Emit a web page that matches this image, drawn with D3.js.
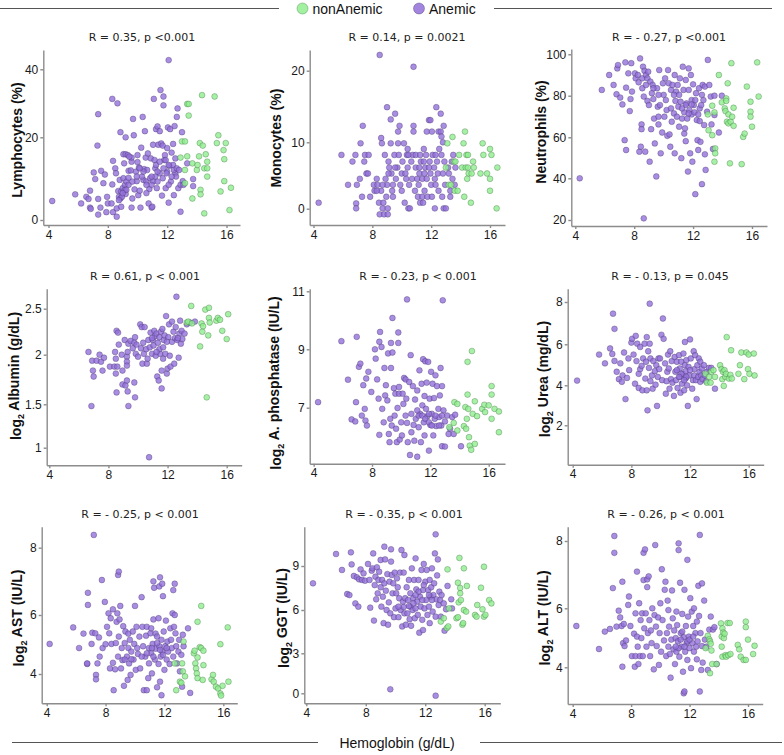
<!DOCTYPE html>
<html>
<head>
<meta charset="utf-8">
<script src="https://cdn.jsdelivr.net/npm/d3@7"></script>
<style>
  body { margin: 0; background: #fff; }
  svg { display: block; }
  .tick text { font-family: "Liberation Sans", Arial, sans-serif; font-size: 12px; fill: #1a1a1a; }
  .axis path, .axis line { stroke: #8c8c8c; stroke-width: 1.4; }
</style>
</head>
<body>
<div id="chart"></div>
<script>
// hemoglobin (g/dL) vs. lab value, one [hb, value] pair per patient
var hbTicks = [4, 8, 12, 16];

var lymphTicks = [0, 20, 40],
    monoTicks = [0, 10, 20],
    neutTicks = [20, 40, 60, 80, 100],
    albTicks = [1, 1.5, 2, 2.5],
    alpTicks = [7, 9, 11],
    ureaTicks = [2, 4, 6, 8],
    astTicks = [4, 6, 8],
    ggtTicks = [0, 3, 6, 9],
    altTicks = [4, 6, 8];

var statLabels = ["R = 0.35, p <0.001", "R = 0.14, p = 0.0021", "R = - 0.27, p <0.001",
                  "R = 0.61, p < 0.001", "R = - 0.23, p < 0.001", "R = - 0.13, p = 0.045",
                  "R = - 0.25, p < 0.001", "R = - 0.35, p < 0.001", "R = - 0.26, p < 0.001"];

var yLabels = ["Lymphocytes (%)", "Monocytes (%)", "Neutrophils (%)",
               "log2 Albumin (g/dL)", "log2 A. phosphatase (IU/L)", "log2 Urea (mg/dL)",
               "log2 AST (IU/L)", "log2 GGT (IU/L)", "log2 ALT (IU/L)"];

var groups = ["nonAnemic", "Anemic"];

var lymphAnemic = [[4.25,4.6],[5.8,6.2],[6.2,4.0],[6.55,5.6],[6.7,5.1],[6.8,7.1],[6.8,3.0],[6.85,2.7],[7.05,11.5],[7.15,9.9],[7.3,18.0],[7.35,26.8],[7.35,5.1],[7.35,1.3],[7.5,3.0],[7.55,11.9],[7.7,8.9],[7.8,11.0],[7.9,1.9],[7.95,5.6],[8.0,4.0],[8.3,31.3],[8.35,14.3],[8.25,4.0],[8.3,8.6],[8.35,1.9],[8.5,12.5],[8.55,11.3],[8.6,0.8],[8.6,2.8],[8.65,30.0],[8.7,7.0],[8.75,5.6],[8.8,9.7],[8.85,5.2],[8.85,21.5],[8.9,6.9],[9.0,7.7],[9.05,10.1],[9.05,15.9],[9.1,13.7],[9.15,8.5],[9.2,6.3],[9.2,20.0],[9.2,15.9],[9.25,9.3],[9.35,15.7],[9.4,11.9],[9.4,10.2],[9.55,12.0],[9.6,14.1],[9.6,15.1],[9.6,3.0],[9.65,5.2],[9.7,25.4],[9.75,20.6],[9.8,7.4],[9.9,11.7],[9.95,9.4],[10.0,15.7],[10.0,14.0],[10.05,6.0],[10.1,12.7],[10.15,7.1],[10.2,3.0],[10.25,17.5],[10.35,26.0],[10.4,9.7],[10.45,12.3],[10.5,21.8],[10.55,15.1],[10.6,9.3],[10.65,12.1],[10.75,4.0],[10.8,7.5],[10.85,10.1],[10.9,14.9],[10.95,3.0],[11.0,3.2],[11.05,9.4],[11.1,31.3],[11.15,14.5],[11.2,12.5],[11.25,22.4],[11.3,7.7],[11.35,23.2],[11.35,9.3],[11.4,18.2],[11.5,11.3],[11.5,21.8],[11.55,33.9],[11.6,18.5],[11.65,5.9],[11.7,10.1],[11.75,29.4],[11.75,32.0],[11.8,14.5],[11.85,15.7],[11.9,7.7],[12.0,11.7],[12.05,22.9],[12.1,42.7],[12.1,4.2],[12.15,13.1],[12.2,22.4],[12.25,9.3],[12.3,16.3],[12.4,18.4],[12.4,13.3],[12.45,6.0],[12.5,23.3],[12.55,11.3],[12.6,10.5],[12.65,26.0],[12.7,28.5],[12.75,7.7],[12.9,2.0],[12.9,8.5],[13.0,21.5],[13.05,9.4],[13.1,8.5],[13.35,13.7],[13.75,9.9],[13.75,8.2],[11.7,18.0],[11.95,11.3],[11.25,13.3],[9.4,8.5],[8.95,5.6],[9.15,7.3],[10.7,16.1],[12.3,10.5],[12.55,14.9],[12.1,8.5],[10.95,8.5],[10.6,6.5],[10.3,10.5],[11.5,14.1],[11.05,18.2],[9.45,15.3],[9.95,10.5],[10.4,11.7],[11.2,10.5],[11.35,11.7],[11.75,12.5],[11.9,14.5],[12.0,17.4],[12.1,13.3],[12.45,12.1],[12.65,12.5],[12.8,12.1],[10.95,10.5],[10.6,8.5],[10.15,12.5],[9.65,9.3],[9.25,7.3],[9.0,6.5],[8.75,4.8],[8.9,3.2]];
var lymphNonAnemic = [[12.9,15.1],[13.0,19.0],[13.2,19.0],[13.35,29.8],[13.45,29.8],[13.45,26.4],[13.2,12.1],[13.2,8.9],[13.35,15.4],[13.7,13.7],[13.7,5.2],[14.0,12.1],[14.05,13.3],[14.15,15.4],[14.2,18.6],[14.25,7.3],[14.25,6.2],[14.35,32.4],[14.4,18.0],[14.5,12.5],[14.5,1.6],[14.6,15.9],[14.7,14.1],[14.7,12.5],[14.7,10.5],[15.2,32.0],[15.35,18.6],[15.45,20.6],[15.6,6.9],[15.8,16.9],[15.85,14.7],[15.85,9.4],[15.95,18.6],[16.2,2.4],[16.3,7.8]];

var monoAnemic = [[4.35,0.9],[5.9,8.1],[6.35,3.6],[6.65,7.1],[6.85,8.1],[6.9,0.8],[6.9,0.05],[6.95,3.6],[7.15,4.5],[7.2,9.85],[7.35,12.3],[7.45,7.1],[7.5,8.1],[7.6,5.3],[7.7,5.3],[7.75,8.1],[7.85,1.8],[7.3,1.8],[8.1,3.6],[8.15,2.7],[8.3,4.5],[8.35,3.6],[8.45,0.9],[8.5,-0.85],[8.5,22.2],[8.6,2.7],[8.6,10.6],[8.65,9.85],[8.7,0.05],[8.75,0.9],[8.8,-0.85],[8.85,8.1],[8.9,4.5],[8.95,1.8],[9.0,3.6],[9.0,14.9],[9.05,0.05],[9.05,-0.85],[9.1,7.1],[9.15,6.2],[9.25,9.85],[9.25,13.2],[9.3,5.3],[9.35,2.7],[9.4,3.6],[9.4,1.8],[9.5,8.1],[9.55,14.0],[9.6,4.5],[9.7,6.2],[9.75,9.85],[9.75,11.5],[9.8,8.1],[9.85,12.3],[9.9,3.6],[10.0,5.3],[10.0,2.7],[10.05,7.1],[10.15,9.85],[10.2,0.9],[10.25,5.3],[10.3,4.5],[10.35,8.1],[10.4,9.0],[10.45,0.05],[10.5,3.6],[10.55,0.05],[10.65,7.1],[10.7,4.5],[10.75,8.1],[10.8,12.3],[10.8,11.5],[10.8,20.55],[10.9,2.7],[10.95,6.2],[10.95,8.1],[11.05,4.5],[11.1,1.8],[11.15,3.6],[11.2,5.3],[11.25,8.1],[11.25,0.9],[11.3,7.1],[11.4,4.5],[11.4,1.8],[11.45,0.9],[11.5,9.0],[11.55,5.3],[11.55,2.7],[11.6,6.2],[11.65,8.1],[11.7,11.5],[11.7,4.5],[11.75,1.8],[11.85,13.1],[11.9,7.1],[11.95,5.3],[11.95,13.1],[12.0,3.6],[12.05,11.5],[12.05,1.8],[12.1,8.1],[12.2,6.2],[12.25,4.5],[12.25,0.05],[12.3,3.6],[12.35,14.9],[12.4,7.1],[12.45,5.3],[12.5,11.5],[12.5,2.7],[12.55,9.0],[12.65,14.0],[12.65,11.5],[12.7,8.1],[12.7,10.8],[12.75,1.8],[12.8,5.3],[12.8,10.0],[12.85,12.3],[12.85,0.05],[12.9,7.1],[12.95,3.6],[13.0,0.05],[13.15,6.2],[13.2,5.3],[13.3,1.8],[13.3,2.7],[13.4,7.1],[13.45,4.5],[13.5,8.1],[13.6,3.6],[13.65,6.2],[11.2,6.2],[11.85,6.2],[12.3,8.1],[11.5,7.1],[10.45,8.1],[10.4,6.2],[9.55,6.2],[9.1,5.3],[8.7,3.6],[8.3,2.7]];
var monoNonAnemic = [[13.1,9.85],[13.45,10.75],[13.55,7.1],[13.65,7.1],[13.0,6.2],[13.2,3.6],[13.35,3.6],[13.6,2.7],[13.8,2.7],[13.9,8.1],[14.2,9.85],[14.25,1.8],[14.3,11.5],[14.4,8.1],[14.5,8.1],[14.1,6.2],[14.35,6.2],[14.5,6.2],[14.55,5.3],[14.45,4.5],[14.7,0.9],[14.85,7.1],[14.9,6.2],[14.75,5.3],[15.5,9.85],[15.55,8.1],[15.35,5.3],[15.8,5.3],[16.0,9.0],[16.1,8.1],[16.0,4.5],[16.0,2.7],[16.45,0.05],[16.5,6.2]];

var neutAnemic = [[4.3,40],[5.8,82.8],[6.3,90],[6.6,85.2],[6.85,93.2],[6.9,94.8],[6.8,80.7],[7.05,79.1],[7.2,75.8],[7.35,58.6],[7.4,96.1],[7.45,53.8],[7.45,83.9],[7.6,90.8],[7.7,72.6],[7.75,78.4],[7.8,95.7],[7.85,82],[8.05,90.8],[8.1,88.4],[8.25,90],[8.3,86.5],[8.35,53],[8.4,98],[8.45,55.4],[8.5,66.2],[8.5,63.9],[8.55,83.6],[8.55,88.4],[8.6,94.0],[8.65,20.8],[8.65,79.6],[8.7,92],[8.75,53],[8.8,85.2],[8.8,90],[8.9,77.5],[8.9,88.4],[8.95,91.6],[9.0,75.5],[9.05,48.1],[9.1,86.8],[9.15,63.9],[9.2,81.2],[9.25,85.2],[9.3,78.4],[9.35,69],[9.4,57],[9.5,40.9],[9.55,83.6],[9.6,74.7],[9.65,69.9],[9.65,66.2],[9.7,92.4],[9.75,75.5],[9.8,52.2],[9.9,62.3],[9.95,86],[10.0,80.4],[10.05,69.9],[10.1,88.4],[10.15,77.9],[10.2,73.1],[10.25,60.7],[10.3,92.4],[10.35,86],[10.4,61.4],[10.45,55.4],[10.5,82.8],[10.5,73.9],[10.55,67.5],[10.6,85.2],[10.7,71.5],[10.75,90],[10.75,52.2],[10.8,77.5],[10.85,82],[10.9,69.9],[10.95,85.2],[11.0,74.7],[11.05,65.1],[11.1,88.4],[11.15,77.1],[11.2,49.8],[11.25,69],[11.3,94],[11.35,82.8],[11.4,61.8],[11.4,72],[11.45,64.3],[11.5,58.1],[11.5,87.6],[11.55,76.3],[11.6,69],[11.65,43.3],[11.7,82.8],[11.7,93.2],[11.75,73.1],[11.8,52.2],[11.85,90],[11.9,77.9],[11.9,71],[11.95,48.1],[12.0,85.5],[12.05,75.5],[12.1,72],[12.15,32.4],[12.2,81.2],[12.25,68.3],[12.3,58.6],[12.35,53.8],[12.4,83.6],[12.45,73.9],[12.45,67.8],[12.5,57.8],[12.55,75.5],[12.6,37.2],[12.65,85.2],[12.7,77.9],[12.75,65.9],[12.8,51.7],[12.8,84.4],[12.85,44.1],[12.95,72.3],[13.0,97.3],[13.1,85.2],[13.2,79.6],[13.25,66.2],[13.35,54.3],[13.45,70.7],[13.45,80],[13.75,62.3],[13.95,80],[11.9,75.8],[11.5,75.5],[11.05,80.4],[10.7,80.4],[12.15,77.9],[12.6,80.4],[12.35,71],[11.7,71.5],[11.25,73.9],[9.65,80.4],[9.3,83.6]];
var neutNonAnemic = [[13.75,90],[13.0,71],[13.05,63.4],[13.3,75.2],[13.3,61],[13.45,72],[13.5,54.6],[13.5,52.2],[13.45,48.1],[13.95,76.8],[14.15,73.9],[14.2,72.6],[14.25,78.7],[14.25,77.5],[14.3,67.5],[14.35,86],[14.4,66.7],[14.4,71],[14.55,67.5],[14.6,95.7],[14.5,47.3],[14.65,69.9],[14.75,74.2],[14.75,65.5],[15.3,46.9],[15.4,60.2],[15.5,61.8],[15.65,84.4],[15.9,77.1],[15.9,72.3],[15.9,69.9],[16.0,65.1],[16.35,96.1],[16.45,79.6]];

var albAnemic = [[6.65,2.03],[6.85,1.48],[6.9,1.94],[6.95,1.84],[7.0,1.78],[7.2,1.94],[7.4,2.0],[7.5,1.93],[7.6,1.84],[7.7,1.97],[8.1,1.88],[8.4,1.88],[8.45,2.03],[8.5,1.96],[8.5,1.81],[8.55,1.62],[8.55,2.26],[8.6,1.88],[8.65,2.24],[8.7,2.11],[8.9,2.0],[8.95,1.84],[8.95,1.7],[9.1,2.16],[9.15,1.69],[9.25,1.98],[9.25,1.93],[9.25,1.89],[9.25,1.74],[9.3,1.63],[9.35,1.48],[9.3,2.03],[9.35,2.12],[9.5,2.15],[9.65,2.07],[9.75,2.13],[9.75,1.72],[9.8,1.57],[9.8,2.19],[9.85,2.01],[9.9,2.11],[10.0,1.98],[10.15,2.33],[10.2,2.07],[10.25,2.3],[10.3,1.91],[10.35,2.13],[10.4,2.01],[10.45,2.3],[10.55,2.06],[10.6,1.91],[10.65,1.96],[10.7,2.16],[10.75,0.89],[10.8,2.08],[10.85,2.24],[10.95,2.01],[11.0,2.16],[11.05,2.1],[11.1,2.26],[11.15,2.2],[11.2,1.99],[11.25,2.23],[11.3,1.78],[11.35,2.13],[11.4,1.74],[11.45,2.19],[11.5,2.01],[11.55,2.25],[11.6,1.84],[11.6,1.66],[11.65,2.28],[11.7,1.96],[11.75,2.16],[11.8,2.21],[11.85,2.01],[11.9,2.42],[11.95,1.81],[12.0,1.86],[12.05,2.19],[12.1,2.33],[12.15,1.99],[12.2,1.88],[12.3,2.36],[12.3,2.14],[12.4,2.25],[12.45,1.91],[12.5,2.18],[12.55,2.3],[12.6,2.63],[12.65,2.16],[12.75,1.97],[12.8,2.23],[12.85,2.37],[12.9,2.12],[12.95,2.26],[13.0,2.17],[13.15,2.23],[13.3,2.33],[13.85,2.36],[13.5,2.35],[11.45,2.06],[11.7,2.08],[11.25,2.03],[10.95,2.18],[11.95,2.14],[12.7,2.18]];
var albNonAnemic = [[13.3,2.35],[13.4,2.36],[13.6,2.53],[13.65,2.34],[14.2,2.09],[14.3,2.34],[14.35,2.25],[14.4,2.31],[14.55,2.49],[14.65,1.57],[14.75,2.21],[14.8,2.51],[14.8,2.4],[14.85,2.35],[15.3,2.37],[15.4,2.4],[15.55,2.38],[15.7,2.26],[16.0,2.17],[16.1,2.44]];

var alpAnemic = [[4.3,7.19],[5.9,9.28],[6.35,7.96],[6.6,6.6],[6.85,6.53],[6.9,7.19],[6.95,9.43],[7.1,8.4],[7.2,8.51],[7.3,6.73],[7.4,7.77],[7.5,6.96],[7.55,6.56],[7.6,8.0],[7.65,6.39],[7.75,8.23],[7.95,7.54],[8.2,9.0],[8.25,8.68],[8.35,7.97],[8.45,7.31],[8.5,9.26],[8.5,6.07],[8.55,9.6],[8.65,9.08],[8.7,6.96],[8.8,6.5],[8.85,8.36],[8.9,7.42],[8.95,7.77],[9.05,7.25],[9.1,8.86],[9.15,6.1],[9.2,5.82],[9.25,6.62],[9.3,9.22],[9.3,8.36],[9.35,6.39],[9.4,10.08],[9.4,8.89],[9.5,7.67],[9.55,6.73],[9.6,7.48],[9.65,6.28],[9.7,5.82],[9.75,6.99],[9.8,9.58],[9.8,9.22],[9.85,7.71],[9.85,7.48],[9.9,5.91],[10.0,6.5],[10.05,6.05],[10.1,7.48],[10.15,7.13],[10.2,8.02],[10.3,6.73],[10.3,7.97],[10.35,7.31],[10.4,6.48],[10.4,10.72],[10.45,5.82],[10.55,7.88],[10.6,5.38],[10.65,8.8],[10.7,6.16],[10.7,6.79],[10.8,7.74],[10.85,6.41],[10.9,5.87],[10.95,7.28],[11.0,6.62],[11.1,5.32],[11.1,7.59],[11.2,6.33],[11.25,8.28],[11.3,6.79],[11.35,5.82],[11.4,7.82],[11.45,7.08],[11.5,8.66],[11.55,6.5],[11.6,7.4],[11.6,6.05],[11.65,8.59],[11.7,6.96],[11.75,7.86],[11.8,6.71],[11.85,8.57],[11.9,5.53],[11.95,7.31],[12.0,6.41],[12.05,8.23],[12.1,6.79],[12.15,7.82],[12.2,6.05],[12.25,7.33],[12.3,6.62],[12.35,8.11],[12.4,6.37],[12.45,7.74],[12.55,6.96],[12.6,6.68],[12.65,7.42],[12.7,8.36],[12.75,6.39],[12.8,7.74],[12.8,5.68],[12.85,10.69],[12.9,6.91],[13.0,6.53],[13.0,5.67],[13.15,6.73],[13.25,6.1],[13.35,6.28],[13.5,6.68],[13.6,6.1],[13.7,6.76],[14.1,5.68],[11.2,6.73],[11.45,6.73],[11.65,6.62],[11.9,6.5],[12.1,6.39],[12.35,6.73],[11.1,6.91],[11.9,6.79],[12.6,6.39],[12.8,6.73]];
var alpNonAnemic = [[13.3,6.33],[13.6,6.48],[13.65,7.19],[13.85,7.13],[13.85,6.22],[14.3,6.37],[14.4,7.02],[14.45,6.28],[14.5,6.62],[14.55,8.57],[14.55,7.45],[14.6,6.96],[14.65,5.99],[14.7,5.7],[14.8,5.56],[14.85,8.94],[14.9,6.79],[15.05,5.76],[15.05,7.22],[15.2,6.71],[15.55,6.96],[15.7,7.1],[15.75,6.85],[16.0,7.08],[16.2,7.74],[16.2,7.45],[16.2,6.62],[16.4,6.96],[16.7,6.87],[16.7,6.16]];

var ureaAnemic = [[4.3,4.23],[5.8,5.5],[6.2,5.07],[6.55,5.8],[6.75,7.45],[6.7,5.53],[6.85,6.73],[6.85,5.19],[7.0,4.66],[7.15,4.3],[7.25,5.07],[7.35,4.17],[7.4,4.48],[7.5,5.6],[7.6,3.31],[7.7,4.36],[7.8,5.31],[7.85,4.74],[8.0,6.08],[8.05,6.26],[8.15,5.5],[8.25,4.08],[8.3,6.4],[8.35,5.18],[8.4,6.03],[8.5,4.56],[8.5,3.87],[8.6,4.79],[8.6,5.87],[8.7,4.95],[8.75,3.75],[8.8,5.31],[8.9,6.03],[8.95,4.33],[9.0,5.15],[9.05,3.75],[9.05,6.34],[9.1,2.75],[9.15,5.66],[9.2,4.85],[9.25,7.92],[9.25,6.03],[9.3,4.2],[9.3,5.31],[9.4,4.48],[9.45,3.83],[9.5,5.18],[9.6,4.69],[9.65,4.03],[9.7,4.98],[9.75,2.97],[9.8,4.41],[9.85,5.31],[9.9,4.79],[9.95,5.31],[10.05,6.45],[10.1,4.25],[10.15,7.22],[10.2,6.26],[10.3,5.07],[10.35,3.58],[10.4,4.2],[10.45,4.66],[10.5,5.5],[10.55,4.82],[10.6,3.83],[10.65,5.66],[10.7,4.3],[10.75,5.18],[10.8,4.13],[10.9,3.47],[10.95,5.38],[11.0,4.66],[11.05,4.25],[11.1,5.15],[11.15,3.87],[11.25,5.47],[11.3,4.82],[11.3,4.41],[11.35,3.63],[11.4,5.15],[11.45,4.08],[11.5,4.56],[11.55,5.55],[11.6,3.75],[11.65,6.11],[11.65,4.98],[11.7,4.33],[11.7,4.69],[11.75,5.23],[11.8,4.0],[11.85,2.97],[11.9,4.9],[11.95,4.48],[12.0,6.23],[12.05,5.31],[12.15,3.83],[12.2,4.25],[12.25,5.66],[12.3,4.79],[12.3,4.48],[12.35,5.47],[12.4,4.25],[12.45,3.31],[12.5,4.98],[12.55,4.41],[12.6,5.31],[12.65,4.66],[12.7,4.17],[12.7,5.15],[12.75,4.48],[12.8,4.82],[12.85,4.3],[12.95,4.98],[13.0,4.48],[13.1,4.2],[13.15,4.66],[13.3,4.85],[13.45,4.85],[13.7,3.83],[11.4,4.56],[11.25,4.41],[11.75,4.41],[12.0,4.74],[11.6,4.25],[11.1,4.74]];
var ureaNonAnemic = [[13.05,4.56],[13.15,4.13],[13.3,4.41],[13.4,4.13],[13.45,4.66],[13.6,4.74],[13.7,4.41],[14.05,4.98],[14.15,4.79],[14.2,4.3],[14.25,4.66],[14.3,3.97],[14.35,4.74],[14.4,4.41],[14.45,4.56],[14.5,6.34],[14.65,4.33],[14.75,4.51],[14.8,5.71],[14.85,4.33],[15.3,4.56],[15.4,4.98],[15.5,5.6],[15.7,4.3],[15.85,5.6],[15.95,4.79],[16.0,5.5],[16.05,4.56],[16.35,5.55],[16.4,4.48]];

var astAnemic = [[4.2,5.02],[5.8,5.58],[6.2,4.88],[6.5,5.37],[6.75,4.34],[6.75,4.36],[6.8,6.66],[6.8,6.3],[7.05,5.02],[7.1,5.4],[7.2,8.38],[7.3,5.38],[7.35,3.97],[7.35,3.82],[7.45,4.36],[7.55,5.24],[7.6,4.59],[7.75,7.04],[7.8,4.88],[7.95,6.39],[8.0,5.01],[8.1,5.6],[8.2,6.05],[8.25,5.38],[8.3,4.19],[8.35,5.89],[8.4,5.02],[8.5,4.38],[8.5,6.17],[8.55,3.45],[8.65,4.16],[8.7,5.05],[8.75,5.77],[8.8,6.05],[8.85,7.19],[8.85,4.59],[8.9,7.29],[8.9,5.27],[8.95,5.85],[9.0,6.27],[9.05,4.19],[9.1,4.88],[9.15,4.47],[9.2,5.62],[9.25,3.6],[9.3,5.05],[9.35,5.44],[9.45,4.59],[9.5,3.8],[9.55,5.37],[9.55,4.88],[9.6,4.36],[9.65,5.16],[9.7,3.97],[9.75,4.76],[9.85,5.44],[9.9,4.49],[9.95,5.02],[10.0,6.27],[10.05,4.14],[10.1,5.6],[10.15,4.88],[10.2,4.68],[10.3,5.27],[10.35,4.19],[10.45,6.53],[10.5,5.6],[10.55,4.94],[10.6,3.45],[10.7,4.59],[10.75,5.3],[10.8,3.45],[10.8,5.6],[10.9,3.86],[10.95,4.88],[10.95,4.36],[11.05,5.38],[11.1,4.7],[11.1,5.55],[11.15,4.02],[11.2,5.02],[11.25,5.85],[11.25,7.0],[11.3,6.81],[11.35,4.49],[11.4,5.37],[11.4,4.86],[11.5,3.55],[11.5,5.27],[11.6,5.89],[11.6,4.34],[11.65,6.85],[11.65,4.94],[11.7,7.12],[11.7,3.74],[11.75,4.59],[11.8,3.28],[11.8,5.16],[11.85,6.93],[11.85,4.76],[11.9,6.56],[11.95,5.44],[12.0,4.14],[12.05,4.94],[12.1,5.81],[12.15,4.49],[12.2,5.1],[12.25,4.76],[12.35,4.34],[12.4,5.55],[12.45,5.16],[12.5,4.88],[12.55,6.05],[12.6,6.74],[12.6,4.59],[12.65,5.6],[12.7,6.93],[12.7,6.0],[12.75,5.38],[12.8,4.94],[12.85,4.36],[12.95,4.76],[13.0,5.16],[13.05,4.09],[13.15,4.65],[13.25,5.33],[13.3,4.94],[13.2,3.57],[13.6,5.55],[13.75,3.36],[11.7,4.82],[11.5,5.05],[11.9,4.65],[12.15,4.88],[11.25,4.59],[11.15,4.88],[10.8,4.7],[10.45,4.59],[9.75,4.5],[9.3,4.49]];
var astNonAnemic = [[12.7,4.36],[12.8,3.45],[13.05,3.74],[13.15,3.7],[13.2,4.36],[13.25,4.09],[13.3,5.1],[13.4,3.92],[14.0,4.7],[14.05,4.79],[14.1,4.36],[14.15,4.19],[14.2,4.02],[14.25,4.56],[14.25,3.86],[14.25,5.77],[14.4,4.91],[14.5,6.27],[14.5,4.88],[14.65,4.79],[14.65,4.3],[14.6,3.8],[15.2,3.82],[15.3,3.97],[15.35,3.74],[15.5,3.57],[15.65,3.51],[15.8,3.34],[15.85,3.27],[15.8,5.01],[15.95,3.6],[16.35,3.74],[16.3,5.58]];

var ggtAnemic = [[4.45,7.82],[6.0,9.82],[6.4,8.73],[6.75,7.09],[6.9,7.02],[7.0,9.93],[7.05,9.11],[7.2,8.32],[7.3,6.45],[7.4,8.23],[7.5,6.23],[7.55,8.09],[7.65,8.77],[7.75,8.05],[7.85,8.5],[7.95,8.0],[8.15,9.14],[8.25,8.05],[8.3,6.16],[8.4,8.68],[8.45,8.84],[8.5,9.86],[8.55,5.27],[8.6,7.7],[8.65,8.27],[8.7,6.73],[8.75,8.91],[8.8,7.14],[8.85,8.05],[8.9,8.61],[9.0,9.41],[9.0,7.55],[9.05,6.23],[9.1,8.05],[9.15,6.91],[9.2,5.09],[9.25,10.32],[9.25,7.82],[9.3,9.45],[9.35,7.32],[9.4,6.0],[9.45,8.45],[9.5,4.98],[9.55,6.52],[9.6,7.93],[9.65,5.77],[9.65,0.3],[9.7,10.14],[9.7,9.3],[9.75,8.39],[9.8,7.14],[9.85,7.82],[9.9,5.5],[9.95,8.55],[10.0,6.11],[10.05,7.14],[10.1,8.16],[10.15,7.55],[10.2,5.5],[10.25,6.8],[10.3,8.55],[10.35,6.0],[10.4,10.09],[10.45,4.86],[10.5,6.57],[10.55,8.55],[10.6,5.77],[10.6,9.75],[10.65,6.8],[10.7,4.98],[10.75,7.55],[10.8,5.77],[10.85,6.68],[10.9,8.05],[10.95,5.36],[11.0,6.23],[11.0,7.14],[11.05,4.91],[11.1,8.84],[11.15,6.0],[11.2,6.8],[11.25,8.05],[11.3,5.43],[11.35,6.11],[11.35,9.52],[11.4,7.41],[11.45,6.57],[11.5,5.66],[11.55,8.05],[11.6,4.43],[11.65,6.91],[11.7,6.23],[11.75,8.73],[11.8,5.32],[11.85,7.36],[11.85,4.61],[11.9,9.14],[11.95,6.11],[12.0,7.93],[12.05,6.68],[12.1,8.73],[12.15,5.66],[12.2,7.36],[12.25,6.23],[12.3,5.09],[12.3,8.05],[12.35,6.91],[12.4,7.55],[12.45,8.84],[12.5,5.89],[12.55,7.02],[12.6,7.82],[12.65,9.86],[12.7,5.54],[12.7,11.16],[12.7,-0.18],[12.75,6.73],[12.8,8.36],[12.85,9.45],[12.9,6.34],[12.95,7.25],[13.0,6.68],[13.05,5.54],[13.1,7.02],[13.25,6.45],[13.3,4.57],[13.4,6.05],[13.5,7.64],[13.75,6.73],[13.8,6.11],[11.9,7.7],[11.55,7.25],[11.35,7.02],[12.25,7.02],[12.45,6.68],[11.8,6.68],[11.2,6.45],[10.9,6.27],[10.55,6.2],[10.2,6.23]];
var ggtNonAnemic = [[13.05,5.2],[13.25,5.43],[13.45,4.75],[13.5,8.77],[13.55,4.86],[13.6,6.11],[14.1,5.43],[14.2,5.5],[14.2,7.86],[14.25,6.52],[14.3,9.55],[14.35,7.5],[14.35,7.14],[14.4,6.68],[14.5,4.98],[14.55,5.09],[14.6,6.0],[14.6,8.84],[14.75,5.89],[14.8,7.64],[15.35,5.66],[15.45,5.54],[15.5,6.34],[15.75,7.52],[15.85,6.05],[15.95,8.95],[15.95,5.54],[16.05,5.66],[16.3,6.68],[16.45,6.45]];

var altAnemic = [[4.25,5.4],[5.8,4.62],[6.2,5.21],[6.55,5.3],[6.75,6.6],[6.85,8.15],[6.85,7.65],[7.0,5.38],[7.15,5.92],[7.25,5.69],[7.35,5.4],[7.4,6.79],[7.4,4.02],[7.45,4.82],[7.5,5.47],[7.55,4.72],[7.65,4.91],[7.8,6.1],[7.85,6.35],[7.95,5.4],[8.05,4.38],[8.2,5.14],[8.25,4.02],[8.3,5.83],[8.3,4.38],[8.4,7.09],[8.4,5.04],[8.45,4.7],[8.5,4.11],[8.55,6.15],[8.6,4.38],[8.65,5.6],[8.7,4.99],[8.75,5.83],[8.8,4.38],[8.85,6.84],[8.85,7.65],[8.9,5.32],[8.95,7.75],[9.0,5.83],[9.05,4.7],[9.1,6.63],[9.1,6.86],[9.15,5.16],[9.2,6.95],[9.25,5.6],[9.3,4.38],[9.35,5.25],[9.4,4.82],[9.45,6.0],[9.55,3.93],[9.6,5.77],[9.65,7.88],[9.7,5.38],[9.75,4.72],[9.85,5.69],[9.9,4.08],[9.95,5.16],[10.0,6.15],[10.05,4.53],[10.1,7.16],[10.15,5.6],[10.25,4.91],[10.3,6.55],[10.35,6.79],[10.4,4.38],[10.45,5.16],[10.5,6.23],[10.55,4.7],[10.55,5.94],[10.6,5.38],[10.65,4.45],[10.7,3.65],[10.75,4.94],[10.8,6.53],[10.85,5.66],[10.9,4.61],[10.95,5.25],[11.0,4.11],[11.05,4.99],[11.1,5.89],[11.1,4.53],[11.15,5.43],[11.2,4.88],[11.25,7.93],[11.25,7.73],[11.3,4.36],[11.35,6.76],[11.4,5.16],[11.45,4.7],[11.5,5.81],[11.55,3.85],[11.6,5.02],[11.6,3.12],[11.65,3.18],[11.65,6.55],[11.7,4.53],[11.75,5.4],[11.8,4.82],[11.85,7.44],[11.85,4.25],[11.9,5.72],[11.95,5.04],[12.0,4.65],[12.05,6.3],[12.1,3.97],[12.15,5.89],[12.2,4.82],[12.25,5.4],[12.3,4.53],[12.3,6.0],[12.4,5.16],[12.45,4.7],[12.5,5.55],[12.5,4.27],[12.55,4.88],[12.6,6.67],[12.65,5.74],[12.7,8.18],[12.7,3.18],[12.75,5.16],[12.8,3.91],[12.85,6.74],[12.85,4.72],[12.9,4.16],[13.0,6.23],[13.05,4.94],[13.15,4.7],[13.25,3.91],[13.35,5.28],[13.45,5.72],[13.6,5.28],[13.7,5.36],[13.85,4.11],[11.4,4.94],[11.65,4.7],[11.85,4.88],[11.25,4.65],[11.05,4.7],[12.0,4.94],[12.25,5.04],[11.5,5.21]];
var altNonAnemic = [[13.1,4.65],[13.25,5.07],[13.35,4.95],[13.4,4.88],[13.4,3.8],[13.45,4.8],[13.5,4.57],[13.55,4.11],[13.85,4.11],[14.15,5.49],[14.2,5.04],[14.2,4.7],[14.25,5.32],[14.25,4.36],[14.3,5.18],[14.35,4.99],[14.4,5.14],[14.45,4.41],[14.5,4.36],[14.6,5.5],[14.65,4.41],[14.75,5.5],[14.8,4.45],[15.3,4.76],[15.4,4.61],[15.5,4.36],[15.7,4.25],[15.85,4.25],[15.85,5.55],[15.85,5.36],[16.0,4.94],[16.35,4.45],[16.45,4.73]];

var panels = [
  {anemic: lymphAnemic, non: lymphNonAnemic, ticks: lymphTicks, yp: [220, 137.3, 69.3],
   x4: 48.5, x16: 226.5, left: 43.3, right: 240, top: 50, bottom: 225, tx: 142, ty: 40.5, lx: 17.5, ly: 140},
  {anemic: monoAnemic, non: monoNonAnemic, ticks: monoTicks, yp: [208.7, 142.3, 70.7],
   x4: 313.5, x16: 490, left: 309.7, right: 505, top: 50, bottom: 225, tx: 407, ty: 40.5, lx: 276, ly: 138},
  {anemic: neutAnemic, non: neutNonAnemic, ticks: neutTicks, yp: [220, 178.3, 137.3, 95.7, 54.3],
   x4: 575.3, x16: 752, left: 571.3, right: 767, top: 49, bottom: 226, tx: 669, ty: 40.5, lx: 541, ly: 132},
  {anemic: albAnemic, non: albNonAnemic, ticks: albTicks, yp: [447.7, 404.3, 354.7, 308.7],
   x4: 49.3, x16: 226.7, left: 46.7, right: 241.7, top: 288.7, bottom: 465.3, tx: 145, ty: 280, lx: 16, ly: 376},
  {anemic: alpAnemic, non: alpNonAnemic, ticks: alpTicks, yp: [407.7, 349.3, 291.3],
   x4: 313.7, x16: 488.7, left: 309.7, right: 505, top: 288.7, bottom: 463.7, tx: 418, ty: 280, lx: 276, ly: 383},
  {anemic: ureaAnemic, non: ureaNonAnemic, ticks: ureaTicks, yp: [425.3, 385.3, 344.3, 302],
   x4: 572.7, x16: 748.7, left: 567.7, right: 763.7, top: 288.7, bottom: 464.7, tx: 670, ty: 280, lx: 545, ly: 379},
  {anemic: astAnemic, non: astNonAnemic, ticks: astTicks, yp: [674, 615, 547.7],
   x4: 46.7, x16: 223.3, left: 41.7, right: 237.3, top: 526.7, bottom: 703.3, tx: 140, ty: 518, lx: 19, ly: 618},
  {anemic: ggtAnemic, non: ggtNonAnemic, ticks: ggtTicks, yp: [693.3, 653.3, 610, 566],
   x4: 306.3, x16: 484.7, left: 304.3, right: 500.3, top: 526.7, bottom: 703.3, tx: 404, ty: 518, lx: 284, ly: 618},
  {anemic: altAnemic, non: altNonAnemic, ticks: altTicks, yp: [667.3, 608.3, 541],
   x4: 572.7, x16: 748, left: 567.7, right: 762.7, top: 526.7, bottom: 704, tx: 666, ty: 518, lx: 545, ly: 618}
];

var color = {nonAnemic: "#90EE90", Anemic: "#9370DB"},
    stroke = {nonAnemic: "#3a6e3a", Anemic: "#3d2f66"};

var svg = d3.select("#chart").append("svg")
    .attr("width", 784)
    .attr("height", 755);

panels.forEach(function(p, i) {
  var g = svg.append("g");

  var x = d3.scaleLinear().domain([4, 16]).range([p.x4, p.x16]);
  x.domain([x.invert(p.left), x.invert(p.right)]).range([p.left, p.right]);

  // y ticks are not evenly spaced in the source picture, so map them piecewise
  var t = p.ticks, yp = p.yp, n = t.length;
  var s0 = (t[1] - t[0]) / (yp[1] - yp[0]),
      sn = (t[n-1] - t[n-2]) / (yp[n-1] - yp[n-2]);
  var y = d3.scaleLinear()
      .domain([t[0] + (p.bottom - yp[0]) * s0].concat(t, [t[n-1] + (p.top - yp[n-1]) * sn]))
      .range([p.bottom].concat(yp, [p.top]));

  g.append("g")
      .attr("class", "axis")
      .attr("transform", "translate(0," + p.bottom + ")")
      .call(d3.axisBottom(x).tickValues(hbTicks).tickSize(3).tickPadding(2).tickSizeOuter(0));

  g.append("g")
      .attr("class", "axis")
      .attr("transform", "translate(" + p.left + ",0)")
      .call(d3.axisLeft(y).tickValues(t).tickFormat(function(d) { return d; })
        .tickSize(3).tickPadding(2).tickSizeOuter(0));

  [["Anemic", p.anemic], ["nonAnemic", p.non]].forEach(function(s) {
    g.append("g").selectAll("circle")
        .data(s[1])
      .enter().append("circle")
        .attr("cx", function(d) { return x(d[0]); })
        .attr("cy", function(d) { return y(d[1]); })
        .attr("r", 2.9)
        .attr("fill", color[s[0]])
        .attr("fill-opacity", 0.8)
        .attr("stroke", stroke[s[0]])
        .attr("stroke-opacity", 0.6)
        .attr("stroke-width", 0.6);
  });

  g.append("text")
      .attr("x", p.tx)
      .attr("y", p.ty)
      .attr("text-anchor", "middle")
      .style("font-family", "'DejaVu Sans', sans-serif")
      .style("font-size", "11px")
      .style("fill", "#222")
      .text(statLabels[i]);

  var lab = g.append("text")
      .attr("transform", "translate(" + p.lx + "," + p.ly + ") rotate(-90)")
      .attr("text-anchor", "middle")
      .attr("dy", "0.35em")
      .style("font-family", "'Liberation Sans', Arial, sans-serif")
      .style("font-size", "14px")
      .style("font-weight", "bold")
      .style("fill", "#111");
  var name = yLabels[i];
  if (name.indexOf("log2 ") === 0) {
    lab.append("tspan").text("log");
    lab.append("tspan").attr("dy", "0.3em").style("font-size", "9px").text("2");
    lab.append("tspan").attr("dy", "-0.3em").text(name.slice(4));
  } else {
    lab.text(name);
  }
});

// legend on top
var legend = svg.append("g");
legend.append("line").attr("x1", 0).attr("x2", 279).attr("y1", 8.5).attr("y2", 8.5)
    .attr("stroke", "#555").attr("stroke-width", 1);
legend.append("line").attr("x1", 494).attr("x2", 772).attr("y1", 8.5).attr("y2", 8.5)
    .attr("stroke", "#555").attr("stroke-width", 1);
var legendX = {nonAnemic: 302.5, Anemic: 419};
groups.forEach(function(k) {
  legend.append("circle").attr("cx", legendX[k]).attr("cy", 8.5).attr("r", 5.5)
      .attr("fill", color[k]).attr("fill-opacity", 0.85)
      .attr("stroke", stroke[k]).attr("stroke-opacity", 0.6).attr("stroke-width", 0.6);
  legend.append("text").attr("x", legendX[k] + 10).attr("y", 13.5)
      .style("font-family", "'Liberation Sans', Arial, sans-serif")
      .style("font-size", "14px").style("fill", "#111")
      .text(k);
});

// shared x title
var foot = svg.append("g");
foot.append("line").attr("x1", 12).attr("x2", 318).attr("y1", 742.5).attr("y2", 742.5)
    .attr("stroke", "#555").attr("stroke-width", 1);
foot.append("line").attr("x1", 480).attr("x2", 782).attr("y1", 742.5).attr("y2", 742.5)
    .attr("stroke", "#555").attr("stroke-width", 1);
foot.append("text").attr("x", 397).attr("y", 747.5).attr("text-anchor", "middle")
    .style("font-family", "'Liberation Sans', Arial, sans-serif")
    .style("font-size", "14px").style("fill", "#111")
    .text("Hemoglobin (g/dL)");
</script>
</body>
</html>
